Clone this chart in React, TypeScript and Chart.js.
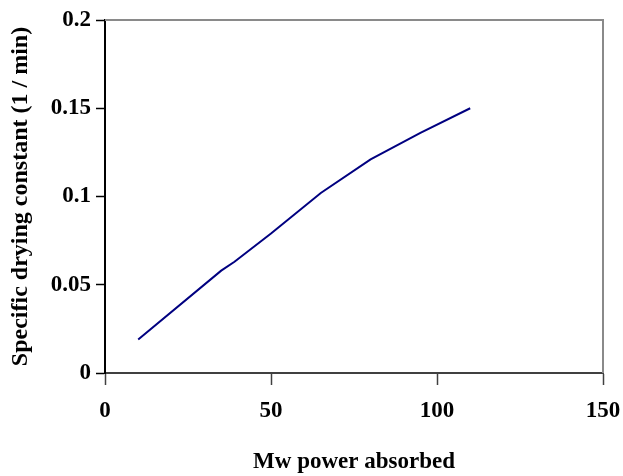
import React, { useEffect, useRef } from "react";
import { Chart, registerables } from "chart.js";

Chart.register(...registerables);

const powerAbsorbed = [10, 35, 39, 50, 65, 80, 95, 110];
const dryingConstant = [0.019, 0.058, 0.063, 0.079, 0.102, 0.121, 0.136, 0.15];
const xTitle = "Mw power absorbed";
const yTitle = "Specific drying constant (1 / min)";

const FONT = "'Liberation Serif', 'Times New Roman', serif";

const frame = {
  id: "frame",
  afterDraw(chart: any) {
    const { ctx, chartArea } = chart;
    ctx.save();
    ctx.strokeStyle = "#8a8a8a";
    ctx.lineWidth = 2;
    ctx.beginPath();
    ctx.moveTo(chartArea.left, chartArea.top);
    ctx.lineTo(chartArea.right, chartArea.top);
    ctx.lineTo(chartArea.right, chartArea.bottom);
    ctx.stroke();
    ctx.restore();
  },
};

export default function App() {
  const ref = useRef<HTMLCanvasElement>(null);
  useEffect(() => {
    const chart = new Chart(ref.current!, {
      type: "scatter",
      data: {
        datasets: [
          {
            data: powerAbsorbed.map((x, i) => ({ x, y: dryingConstant[i] })),
            showLine: true,
            borderColor: "#000080",
            borderWidth: 2,
            pointRadius: 0,
            tension: 0,
          },
        ],
      },
      options: {
        animation: false,
        responsive: false,
        layout: { padding: { left: 0, right: 20, top: 20, bottom: 0 } },
        plugins: { legend: { display: false }, tooltip: { enabled: false } },
        scales: {
          x: {
            type: "linear",
            min: 0,
            max: 150,
            afterFit: (s: any) => {
              s.height = 103;
              s.paddingLeft = 0;
              s.paddingRight = 0;
            },
            ticks: {
              stepSize: 50,
              color: "#000",
              padding: 12,
              font: { family: FONT, size: 23, weight: "bold" },
            },
            grid: {
              display: true,
              drawOnChartArea: false,
              tickLength: 12,
              tickColor: "#404040",
              tickWidth: 1.5,
            },
            border: { color: "#404040", width: 2 },
            title: {
              display: true,
              text: xTitle,
              color: "#000",
              padding: { top: 0, bottom: 0 },
              font: { family: FONT, size: 23, weight: "bold" },
            },
          },
          y: {
            type: "linear",
            min: 0,
            max: 0.2,
            afterFit: (s: any) => {
              s.width = 105;
              s.paddingTop = 0;
              s.paddingBottom = 0;
            },
            ticks: {
              stepSize: 0.05,
              color: "#000",
              padding: 5,
              font: { family: FONT, size: 23, weight: "bold" },
              callback: (v: any) => String(Math.round(Number(v) * 1000) / 1000),
            },
            grid: {
              display: true,
              drawOnChartArea: false,
              tickLength: 9,
              tickColor: "#000",
              tickWidth: 1.5,
            },
            border: { color: "#000", width: 2 },
            title: {
              display: true,
              text: yTitle,
              color: "#000",
              padding: { top: 6, bottom: 0 },
              font: { family: FONT, size: 24, weight: "bold" },
            },
          },
        },
      },
      plugins: [frame],
    } as any);
    return () => chart.destroy();
  }, []);
  return (
    <div style={{ position: "absolute", left: 0, top: 0, width: 623, height: 476, background: "#fff" }}>
      <canvas ref={ref} width={623} height={476} />
    </div>
  );
}
